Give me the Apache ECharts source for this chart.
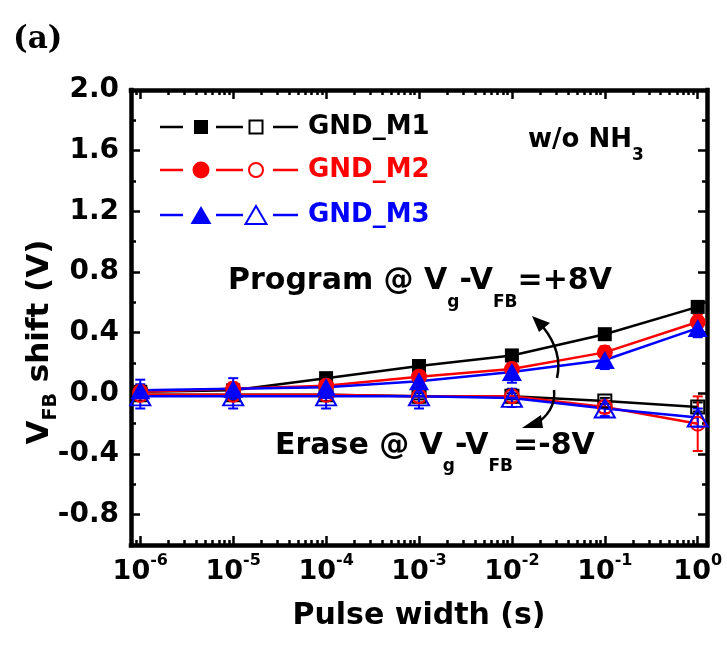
<!DOCTYPE html>
<html><head><meta charset="utf-8">
<script src="https://cdn.jsdelivr.net/npm/echarts@6/dist/echarts.min.js"></script>
<style>html,body{margin:0;padding:0;background:#fff}#c{width:727px;height:652px}</style>
</head><body><div id="c"></div>
<script>
// ---------- data ----------
const pulseWidth = [1e-6, 1e-5, 1e-4, 1e-3, 1e-2, 1e-1, 1];
const xTickExponents = [-6, -5, -4, -3, -2, -1, 0];
const yTickLabels = [-0.8, -0.4, 0.0, 0.4, 0.8, 1.2, 1.6, 2.0];
const yMinorTicks = [-0.6, -0.2, 0.2, 0.6, 1.0, 1.4, 1.8];
const seriesNames = ['GND_M1', 'GND_M2', 'GND_M3'];

const m1Program = [0.01, 0.02, 0.10, 0.18, 0.25, 0.39, 0.57];
const m1Erase   = [-0.01, -0.01, -0.01, -0.02, -0.02, -0.05, -0.09];
const m2Program = [0.01, 0.03, 0.05, 0.11, 0.16, 0.27, 0.47];
const m2Erase   = [-0.01, -0.01, -0.01, -0.02, -0.02, -0.09, -0.20];
const m3Program = [0.02, 0.03, 0.04, 0.08, 0.14, 0.22, 0.43];
const m3Erase   = [-0.02, -0.02, -0.02, -0.02, -0.03, -0.10, -0.16];

const m1ProgramErr = [0.02, 0.02, 0.02, 0.02, 0.02, 0.02, 0.03];
const m1EraseErr   = [0.02, 0.02, 0.02, 0.02, 0.02, 0.02, 0.03];
const m2ProgramErr = [0.04, 0.04, 0.04, 0.04, 0.04, 0.04, 0.05];
const m2EraseErr   = [0.04, 0.04, 0.04, 0.04, 0.04, 0.04, 0.18];
const m3ProgramErr = [0.07, 0.07, 0.07, 0.07, 0.07, 0.06, 0.06];
const m3EraseErr   = [0.08, 0.08, 0.08, 0.08, 0.06, 0.05, 0.06];

// ---------- styling ----------
const FONT = 'DejaVu Sans';
const BLACK = '#000000', RED = '#ff0000', BLUE = '#0000ff';
const X_MIN = -6.1, X_MAX = 0.1, Y_MIN = -1.0, Y_MAX = 2.0;

const xMajor = xTickExponents.slice();
const xMinor = [];
for (let n = -7; n <= 0; n++) for (let k = 2; k <= 9; k++) {
  const v = n + Math.log10(k);
  if (v > X_MIN && v < X_MAX) xMinor.push(v);
}

const lineW = 4.5;
function xAxisDef(position, ticks, len, showLine, showLabel) {
  return {
    type: 'value', position, min: X_MIN, max: X_MAX, gridIndex: 0,
    axisLine: { show: showLine, onZero: false, lineStyle: { color: BLACK, width: lineW, cap: 'square' } },
    axisTick: { show: true, inside: true, length: len, customValues: ticks, lineStyle: { color: BLACK, width: 2.5 } },
    axisLabel: showLabel ? {
      show: true, customValues: xMajor, margin: 8,
      formatter: v => '{b|10}{s|' + Math.round(v) + '}',
      rich: {
        b: { fontFamily: FONT, fontWeight: 'bold', fontSize: 27, color: BLACK },
        s: { fontFamily: FONT, fontWeight: 'bold', fontSize: 16, color: BLACK, padding: [0, 0, 22, 0] }
      }
    } : { show: false },
    splitLine: { show: false }
  };
}
function yAxisDef(position, ticks, len, showLine, showLabel) {
  return {
    type: 'value', position, min: Y_MIN, max: Y_MAX, gridIndex: 0,
    axisLine: { show: showLine, onZero: false, lineStyle: { color: BLACK, width: lineW, cap: 'square' } },
    axisTick: { show: true, inside: true, length: len, customValues: ticks, lineStyle: { color: BLACK, width: 2.5 } },
    axisLabel: showLabel ? {
      show: true, customValues: yTickLabels, margin: 12,
      formatter: v => v.toFixed(1),
      fontFamily: FONT, fontWeight: 'bold', fontSize: 28, color: BLACK
    } : { show: false },
    splitLine: { show: false }
  };
}

function pts(vals) { return pulseWidth.map((p, i) => [Math.log10(p), vals[i]]); }

function lineSeries(name, vals, color, symbol, size, filled) {
  return {
    type: 'line', name, data: pts(vals), symbol, symbolSize: size, showAllSymbol: true,
    lineStyle: { color, width: 2.5 },
    itemStyle: { color: filled ? color : 'rgba(0,0,0,0)', borderColor: color, borderWidth: filled ? 0 : 2 },
    z: 3, animation: false, silent: true, clip: false
  };
}
function errSeries(vals, errs, color) {
  return {
    type: 'custom', data: pulseWidth.map((p, i) => [Math.log10(p), vals[i], errs[i]]),
    z: 2, animation: false, silent: true, clip: false,
    renderItem: (params, api) => {
      const x = api.value(0), y = api.value(1), e = api.value(2);
      const t = api.coord([x, y + e]), b = api.coord([x, y - e]);
      const w = 5, st = { stroke: color, lineWidth: 2 };
      return { type: 'group', children: [
        { type: 'line', shape: { x1: t[0], y1: t[1], x2: b[0], y2: b[1] }, style: st },
        { type: 'line', shape: { x1: t[0] - w, y1: t[1], x2: t[0] + w, y2: t[1] }, style: st },
        { type: 'line', shape: { x1: b[0] - w, y1: b[1], x2: b[0] + w, y2: b[1] }, style: st }
      ] };
    }
  };
}

// ---------- legend (graphic) ----------
function legendRow(cy, color, kind, label) {
  const els = [];
  const ls = { stroke: color, lineWidth: 2.5 };
  [[160, 183], [216, 243], [273, 298]].forEach(([a, b]) =>
    els.push({ type: 'line', shape: { x1: a, y1: cy, x2: b, y2: cy }, style: ls }));
  const mk = (cx, filled) => {
    const st = filled ? { fill: color } : { fill: 'rgba(0,0,0,0)', stroke: color, lineWidth: 2 };
    if (kind === 'rect') return { type: 'rect', shape: filled ? { x: cx - 7, y: cy - 7, width: 14, height: 14 } : { x: cx - 6.5, y: cy - 6.5, width: 13, height: 13 }, style: st };
    if (kind === 'circle') return { type: 'circle', shape: { cx, cy, r: filled ? 8.5 : 7 }, style: st };
    return { type: 'polygon', shape: { points: [[cx, cy - 9], [cx + 10.5, cy + 9], [cx - 10.5, cy + 9]] }, style: st };
  };
  els.push(mk(201, true), mk(256, false));
  els.push({ type: 'text', x: 308, y: cy, style: { text: label, fill: color, font: 'bold 26px "' + FONT + '"', verticalAlign: 'middle', align: 'left' } });
  return els;
}

function subText(x, y, parts, size, subSize, pad, align) {
  let t = '';
  parts.forEach(p => { t += p[1] ? '{s|' + p[0] + '}' : '{a|' + p[0] + '}'; });
  return { type: 'text', x, y, style: {
    text: t, align: align || 'left', verticalAlign: 'middle',
    rich: {
      a: { fontFamily: FONT, fontWeight: 'bold', fontSize: size, fill: BLACK, color: BLACK },
      s: { fontFamily: FONT, fontWeight: 'bold', fontSize: subSize, fill: BLACK, color: BLACK, padding: [pad, 0, 0, 0] }
    }
  } };
}

const graphics = [].concat(
  legendRow(127, BLACK, 'rect', seriesNames[0]),
  legendRow(170, RED, 'circle', seriesNames[1]),
  legendRow(215, BLUE, 'triangle', seriesNames[2]),
  [
    { type: 'text', x: 13, y: 40, style: { text: '(a)', fill: BLACK, font: 'bold 31px "DejaVu Serif"', verticalAlign: 'middle' } },
    subText(528, 140, [['w/o NH'], ['3', true]], 26, 17, 32),
    subText(228, 281, [['Program @ V'], ['g', true], ['-V'], ['FB', true], ['=+8V']], 30, 17, 44),
    subText(275, 446, [['Erase @ V'], ['g', true], ['-V'], ['FB', true], ['=-8V']], 30, 17, 42),
    Object.assign(subText(0, 0, [['V'], ['FB', true], [' shift (V)']], 31, 19, 22, 'center'), { x: 40, y: 342, rotation: Math.PI / 2 }),
    { type: 'bezierCurve', shape: { x1: 557, y1: 378, x2: 543, y2: 327, cpx1: 563, cpy1: 352 }, style: { stroke: BLACK, lineWidth: 2.5, fill: null } },
    { type: 'polygon', shape: { points: [[532, 316], [550, 323], [539, 332]] }, style: { fill: BLACK } },
    { type: 'bezierCurve', shape: { x1: 554, y1: 390, x2: 540, y2: 421, cpx1: 556, cpy1: 408 }, style: { stroke: BLACK, lineWidth: 2.5, fill: null } },
    { type: 'polygon', shape: { points: [[522, 428], [543, 428], [541, 415]] }, style: { fill: BLACK } }
  ]
).map(g => Object.assign({ z: 100, silent: true }, g));

const chart = echarts.init(document.getElementById('c'), null, { renderer: 'canvas' });
chart.setOption({
  animation: false,
  backgroundColor: '#ffffff',
  grid: { left: 131, top: 90, width: 576, height: 455, outerBoundsMode: 'none', containLabel: false },
  xAxis: [
    Object.assign(xAxisDef('bottom', xMajor, 9, true, true), {
      name: 'Pulse width (s)', nameLocation: 'middle', nameGap: 56,
      nameTextStyle: { fontFamily: FONT, fontWeight: 'bold', fontSize: 30, color: BLACK }
    }),
    xAxisDef('top', xMajor, 9, true, false),
    xAxisDef('bottom', xMinor, 5, false, false),
    xAxisDef('top', xMinor, 5, false, false)
  ],
  yAxis: [
    yAxisDef('left', yTickLabels, 9, true, true),
    yAxisDef('right', yTickLabels, 9, true, false),
    yAxisDef('left', yMinorTicks, 5, false, false),
    yAxisDef('right', yMinorTicks, 5, false, false)
  ],
  series: [
    errSeries(m1Program, m1ProgramErr, BLACK),
    errSeries(m1Erase, m1EraseErr, BLACK),
    lineSeries(seriesNames[0] + ' program', m1Program, BLACK, 'rect', 14, true),
    lineSeries(seriesNames[0] + ' erase', m1Erase, BLACK, 'rect', 13, false),
    errSeries(m2Program, m2ProgramErr, RED),
    errSeries(m2Erase, m2EraseErr, RED),
    lineSeries(seriesNames[1] + ' program', m2Program, RED, 'circle', 16, true),
    lineSeries(seriesNames[1] + ' erase', m2Erase, RED, 'circle', 14, false),
    errSeries(m3Program, m3ProgramErr, BLUE),
    errSeries(m3Erase, m3EraseErr, BLUE),
    lineSeries(seriesNames[2] + ' program', m3Program, BLUE, 'triangle', [20, 18], true),
    lineSeries(seriesNames[2] + ' erase', m3Erase, BLUE, 'triangle', [20, 18], false)
  ],
  graphic: graphics
});
</script>
</body></html>
